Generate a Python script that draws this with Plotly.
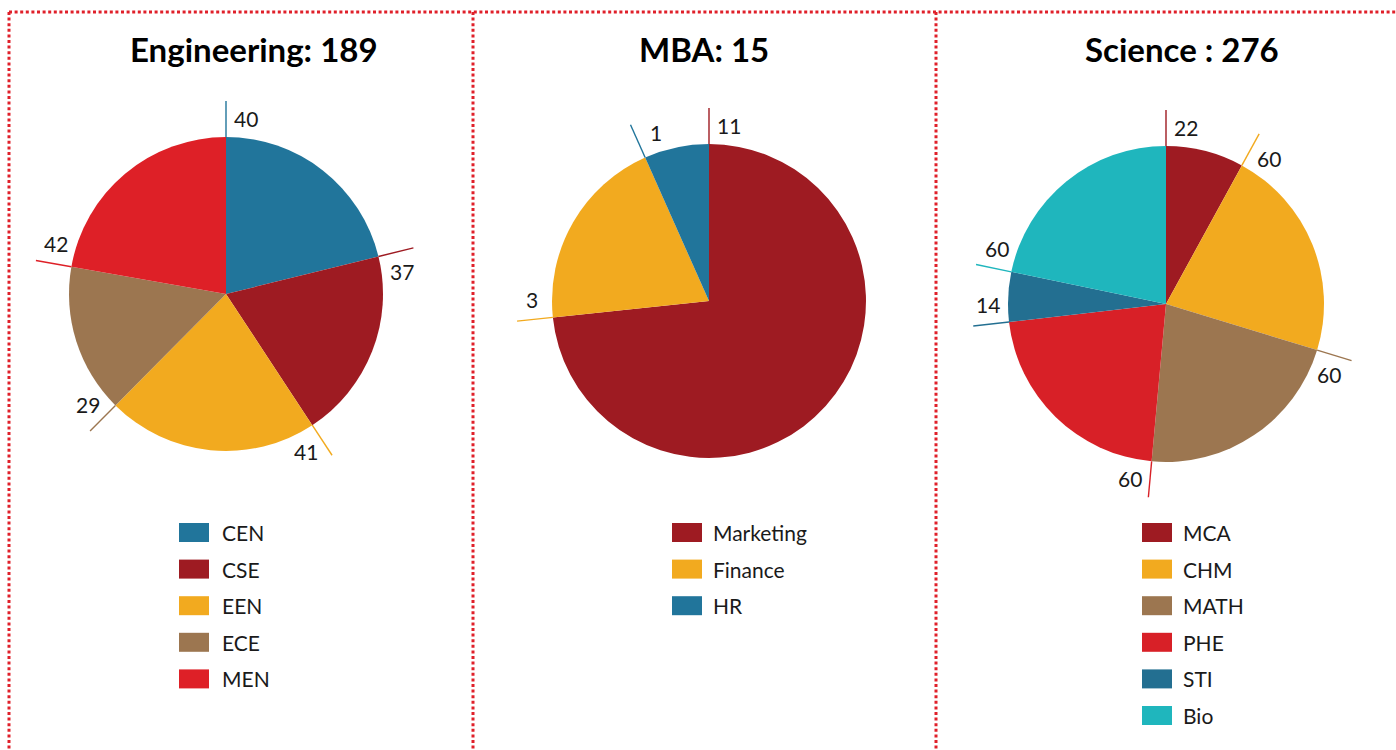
import math
import plotly.graph_objects as go

# ---------------- data ----------------
eng_labels = ["CEN", "CSE", "EEN", "ECE", "MEN"]
eng_values = [40, 37, 41, 29, 42]

mba_labels = ["Marketing", "Finance", "HR"]
mba_values = [11, 3, 1]

sci_labels = ["MCA", "CHM", "MATH", "PHE", "STI", "Bio"]
sci_values = [22, 60, 60, 60, 14, 60]

titles = ["Engineering: 189", "MBA: 15", "Science : 276"]

# ---------------- styles ----------------
BLUE = "#21759B"
DARKRED = "#9E1B22"
ORANGE = "#F2AA1F"
BROWN = "#9C7650"
RED = "#DE2027"
TEAL = "#1FB6BD"

eng_colors = [BLUE, DARKRED, ORANGE, BROWN, RED]
mba_colors = [DARKRED, ORANGE, BLUE]
sci_colors = [DARKRED, ORANGE, BROWN, "#D82027", "#236F91", TEAL]

W, H = 1396, 750
FONT = "Lato"
TXT = "#1a1a1a"


def px(x):
    return x / W


def py(y):
    return 1 - y / H


panels = [
    dict(labels=eng_labels, values=eng_values, colors=eng_colors, title=titles[0],
         cx=226, cy=294, r=157, tx=254, lx=179, ltx=220),
    dict(labels=mba_labels, values=mba_values, colors=mba_colors, title=titles[1],
         cx=709, cy=301, r=157, tx=704, lx=672, ltx=711),
    dict(labels=sci_labels, values=sci_values, colors=sci_colors, title=titles[2],
         cx=1166, cy=304, r=158, tx=1182, lx=1142, ltx=1181),
]

fig = go.Figure()
shapes = []
annotations = []

for p in panels:
    cx, cy, r = p["cx"], p["cy"], p["r"]
    fig.add_trace(go.Pie(
        labels=p["labels"], values=p["values"],
        marker=dict(colors=p["colors"], line=dict(width=0)),
        sort=False, direction="clockwise", rotation=0,
        textinfo="none", hoverinfo="label+value",
        showlegend=False,
        domain=dict(x=[px(cx - r), px(cx + r)], y=[py(cy + r), py(cy - r)]),
    ))

    # title
    annotations.append(dict(
        x=px(p["tx"]), y=py(49), xref="paper", yref="paper",
        text=p["title"], showarrow=False, xanchor="center", yanchor="middle",
        font=dict(family=FONT, size=33, color="#000000", weight="bold"),
    ))

    total = sum(p["values"])
    cum = 0
    for lab, val, col in zip(p["labels"], p["values"], p["colors"]):
        start = cum / total * 2 * math.pi
        cum += val
        # leader line at slice start
        x0 = cx + r * math.sin(start)
        y0 = cy - r * math.cos(start)
        x1 = cx + (r + 36) * math.sin(start)
        y1 = cy - (r + 36) * math.cos(start)
        shapes.append(dict(type="line", xref="paper", yref="paper",
                           x0=px(x0), y0=py(y0), x1=px(x1), y1=py(y1),
                           line=dict(color=col, width=1.4)))
        # value label
        a = start + math.radians(6.5)
        d = r + 20
        annotations.append(dict(
            x=px(cx + d * math.sin(a)), y=py(cy - d * math.cos(a)),
            xref="paper", yref="paper", text=str(val), showarrow=False,
            xanchor="center", yanchor="middle",
            font=dict(family=FONT, size=21, color=TXT),
        ))

    # legend
    for i, (lab, col) in enumerate(zip(p["labels"], p["colors"])):
        yc = 532.5 + i * 36.6
        shapes.append(dict(type="rect", xref="paper", yref="paper",
                           x0=px(p["lx"]), x1=px(p["lx"] + 30),
                           y0=py(yc + 9.5), y1=py(yc - 9.5),
                           fillcolor=col, line=dict(width=0)))
        annotations.append(dict(
            x=px(p["ltx"]), y=py(yc), xref="paper", yref="paper",
            text=lab, showarrow=False, xanchor="left", yanchor="middle",
            font=dict(family=FONT, size=21, color=TXT),
        ))

# dotted panel borders
BORDER = "#E0202A"
dot = dict(color=BORDER, width=3, dash="3px,2.6px")
shapes.append(dict(type="line", xref="paper", yref="paper",
                   x0=px(9), x1=1, y0=py(12), y1=py(12), line=dot))
for bx in [9, 473, 936]:
    shapes.append(dict(type="line", xref="paper", yref="paper",
                       x0=px(bx), x1=px(bx), y0=py(12), y1=0, line=dot))

fig.update_layout(
    width=W, height=H,
    margin=dict(l=0, r=0, t=0, b=0),
    paper_bgcolor="white", plot_bgcolor="white",
    shapes=shapes, annotations=annotations,
    showlegend=False,
)

fig.write_html(
    "out.html",
    config={"displayModeBar": False},
    post_script="document.body.style.margin='0';document.body.style.overflow='hidden';",
)
